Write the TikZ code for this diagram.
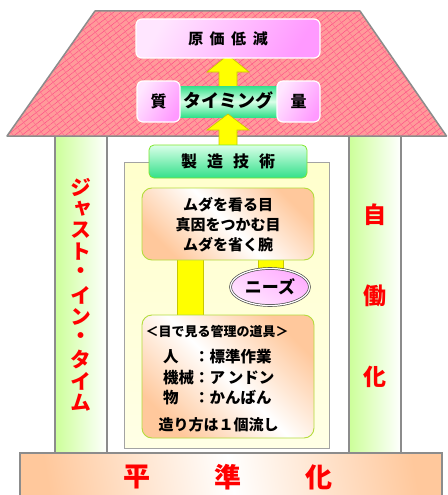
\documentclass[tikz,border=0pt]{standalone}
\usepackage{fontspec}
\newfontfamily\jp{Noto Sans CJK JP}
\newfontfamily\jpv{Noto Sans CJK JP}[RawFeature=+vert]
\usetikzlibrary{patterns.meta,shapes.geometric}
\definecolor{roofpink}{HTML}{FF9A9A}
\definecolor{roofline}{HTML}{FF4A86}
\definecolor{frame}{HTML}{8C8C8C}
\definecolor{pinkA}{HTML}{FF99FF}
\definecolor{pinkB}{HTML}{FFE6FF}
\definecolor{greenA}{HTML}{33E08A}
\definecolor{greenB}{HTML}{D9FFE8}
\definecolor{peach}{HTML}{FFC89C}
\definecolor{lime}{HTML}{CCFF99}
\definecolor{cream}{HTML}{FFFFCC}
\definecolor{boxedge}{HTML}{B4DC3C}
\definecolor{jred}{HTML}{FF0000}
\definecolor{yel}{HTML}{FFFF00}
\definecolor{yeledge}{HTML}{C8C800}
\tikzset{
  jtext/.style={font=\jp\bfseries\fontsize{#1}{#1}\selectfont, inner sep=0pt},
  redtext/.style={font=\jp\bfseries\fontsize{#1}{#1}\selectfont, text=jred, inner sep=0pt},
  redv/.style={font=\jpv\bfseries\fontsize{#1}{#1}\selectfont, text=jred, inner sep=0pt},
  pinkbox/.style={rounded corners=6pt, draw=white, line width=1.2pt, left color=pinkB, right color=pinkA, shading angle=60, inner sep=0pt},
  peachbox/.style={rounded corners=10pt, draw=boxedge, line width=0.9pt, top color=peach, bottom color=peach, middle color=white, shading angle=-45, inner sep=0pt},
  greenbox/.style={rounded corners=5pt, draw=boxedge!70!green, line width=0.8pt, top color=greenB, bottom color=greenA, inner sep=0pt},
  pillar/.style={draw=frame, line width=1.5pt, left color=lime, right color=white},
  yelshape/.style={fill=yel, draw=yeledge, line width=0.6pt}
}
\begin{document}
\begin{tikzpicture}[x=1pt,y=-1pt]
\useasboundingbox (0,0) rectangle (447,495);
% pillars
\path[pillar] (55,130) rectangle (107,455);
\path[pillar] (349,130) rectangle (401,455);
% roof
\coordinate (r1) at (95,11);
\coordinate (r2) at (360,11);
\coordinate (r3) at (446.5,136);
\coordinate (r4) at (7,136);
\fill[roofpink] (r1) -- (r2) -- (r3) -- (r4) -- cycle;
\fill[pattern={Lines[angle=38,distance=4.5pt,line width=0.45pt]}, pattern color=roofline] (r1) -- (r2) -- (r3) -- (r4) -- cycle;
\fill[pattern={Lines[angle=-52,distance=8pt,line width=0.4pt]}, pattern color=roofline!60!roofpink] (r1) -- (r2) -- (r3) -- (r4) -- cycle;
\draw[frame, line width=1.5pt, line join=round] (r4) -- (r1) -- (r2) -- (r3) -- cycle;
% upper arrow
\path[yelshape] (219,88) -- (219,72) -- (207,72) -- (228,55) -- (249,72) -- (237,72) -- (237,88) -- cycle;
% cost box
\node[pinkbox, minimum width=184pt, minimum height=39pt] (cost) at (228,38.5) {};
\node[jtext=15] (costt) at (cost) {原\hspace{6.5pt}価\hspace{6.5pt}低\hspace{6.5pt}減};
% timing band
\node[inner sep=0pt, minimum width=99pt, minimum height=31pt, top color=greenA, bottom color=greenA, middle color=greenB] (band) at (228.5,101.5) {};
\node[pinkbox, minimum width=43pt, minimum height=41pt] (qual) at (158.5,101.5) {};
\node[jtext=16] at (qual) {質};
\node[pinkbox, minimum width=43pt, minimum height=41pt] (qty) at (298.5,101.5) {};
\node[jtext=16] at (qty) {量};
% lower arrow
\path[yelshape] (219,150) -- (219,130) -- (207,130) -- (228,114) -- (249,130) -- (237,130) -- (237,150) -- cycle;
\node[jtext=18] (timing) at (228,100) {タイミング};
% inner box
\draw[frame!80, line width=1pt, top color=cream, bottom color=cream!50] (124,162) rectangle (329,448);
% seizo box
\node[greenbox, minimum width=158pt, minimum height=33pt] (seizo) at (228,161.5) {};
\node[jtext=16] at (seizo) {製\hspace{10pt}造\hspace{10pt}技\hspace{10pt}術};
% yellow bars
\path[yelshape] (177,255) rectangle (203,318);
\path[yelshape] (258,255) rectangle (283,273);
% muda box
\node[peachbox, minimum width=172pt, minimum height=72pt] (muda) at (228,224) {};
\node[jtext=15] at (228,204.5) {ムダを看る目};
\node[jtext=15] at (228,225) {真因をつかむ目};
\node[jtext=15] at (228,245) {ムダを省く腕};
% needs ellipse
\node[ellipse, draw=black!70, double=white, double distance=1.2pt, line width=0.7pt, minimum width=79pt, minimum height=37pt, inner sep=0pt, left color=pinkA!80, right color=pinkB, shading angle=-30] (needs) at (270,287) {};
\node[jtext=17] at (needs) {ニーズ};
% tools box
\node[peachbox, minimum width=172pt, minimum height=123pt] (tools) at (228,376.5) {};
\node[jtext=13] at (217,332) {＜目で見る管理の道具＞};
\node[jtext=15.5, anchor=west] at (163,357) {人\hspace{1em}：標準作業};
\node[jtext=15.5, anchor=west] at (163,377.5) {機械：ア\,ンドン};
\node[jtext=15.5, anchor=west] at (163,397.5) {物\hspace{1em}：かんばん};
\node[jtext=15] at (218.5,424.5) {造り方は１個流し};
% vertical red text
\foreach \c [count=\i from 0] in {ジ,ャ,ス,ト,・,イ,ン,・,タ,イ,ム}
  \node[redv=21] at (81,187+21.6*\i) {\c};
\node[redtext=23] at (375,215) {自};
\node[redtext=23] at (375,296) {働};
\node[redtext=23] at (375,377) {化};
% base
\draw[frame, line width=1.5pt, left color=peach, right color=peach, middle color=white, shading angle=-80] (20,453) rectangle (442,498);
\node[redtext=27] at (137,477) {平};
\node[redtext=27] at (228,477) {準};
\node[redtext=27] at (319,477) {化};
\end{tikzpicture}
\end{document}
